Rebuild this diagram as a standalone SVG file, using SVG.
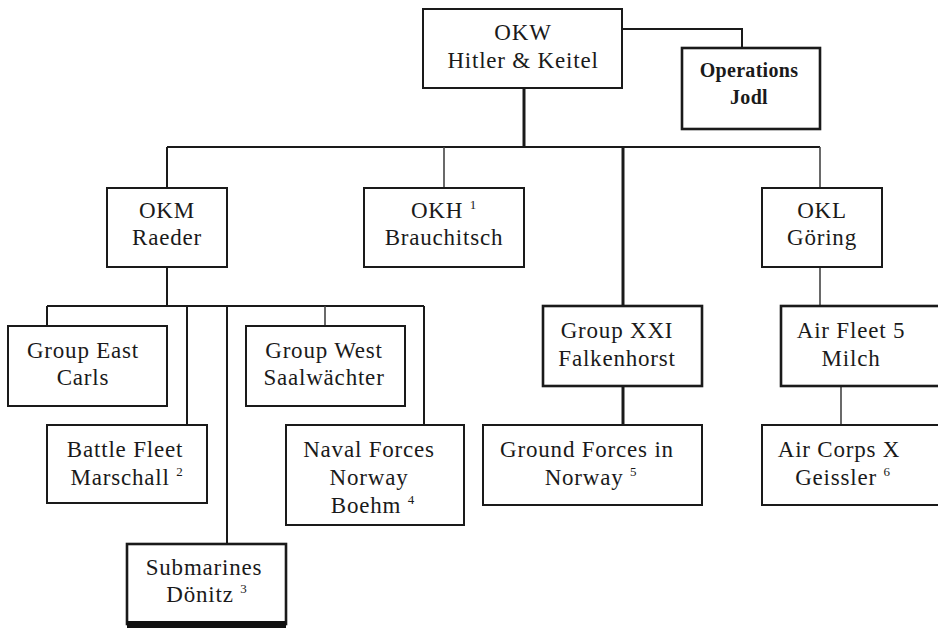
<svg xmlns="http://www.w3.org/2000/svg" width="938" height="628" viewBox="0 0 938 628">
<style>
.box{fill:#fff;stroke:#1a1a1a;stroke-width:2}
.thick{stroke-width:2.6}
.t{font-family:"Liberation Serif","Times New Roman",serif;font-size:23px;fill:#1a1a1a;text-anchor:middle;letter-spacing:0.8px}
.b{font-weight:bold;font-size:20px;letter-spacing:0.3px}
.sup{font-size:13px}
.c{fill:none;stroke:#1a1a1a;stroke-width:2}
.ct{stroke-width:3}
.cl{stroke:#444;stroke-width:1.6}
</style>
<rect width="938" height="628" fill="#fff"/>
<g id="connectors">
<path class="c" d="M622,29 H742 V48"/>
<path class="c ct" d="M524,88 V147"/>
<path class="c" d="M167,147 H820"/>
<path class="c" d="M167,147 V188"/>
<path class="c cl" d="M444,147 V188"/>
<path class="c ct" d="M623,147 V306"/>
<path class="c cl" d="M820,147 V188"/>
<path class="c cl" d="M820,267 V306"/>
<path class="c" d="M167,267 V306"/>
<path class="c" d="M47,306 H424"/>
<path class="c" d="M47,306 V326"/>
<path class="c" d="M187,306 V425"/>
<path class="c" d="M227,306 V544"/>
<path class="c cl" d="M325,306 V326"/>
<path class="c" d="M424,306 V425"/>
<path class="c ct" d="M623,386 V425"/>
<path class="c cl" d="M841,386 V425"/>
</g>
<g id="okw">
<rect class="box" x="423" y="9" width="199" height="79"/>
<text class="t" x="523" y="40">OKW</text>
<text class="t" x="523" y="68">Hitler &amp; Keitel</text>
</g>
<g id="operations">
<rect class="box thick" x="682" y="48" width="138" height="81"/>
<text class="t b" x="749" y="77">Operations</text>
<text class="t b" x="749" y="104">Jodl</text>
</g>
<g id="okm">
<rect class="box" x="107" y="188" width="120" height="79"/>
<text class="t" x="167" y="218">OKM</text>
<text class="t" x="167" y="245">Raeder</text>
</g>
<g id="okh">
<rect class="box" x="364" y="188" width="160" height="79"/>
<text class="t" x="444" y="218">OKH <tspan class="sup" dy="-9">1</tspan></text>
<text class="t" x="444" y="245">Brauchitsch</text>
</g>
<g id="okl">
<rect class="box" x="762" y="188" width="120" height="79"/>
<text class="t" x="822" y="218">OKL</text>
<text class="t" x="822" y="245">Göring</text>
</g>
<g id="group-east">
<rect class="box" x="8" y="326" width="159" height="80"/>
<text class="t" x="83" y="358">Group East</text>
<text class="t" x="83" y="385">Carls</text>
</g>
<g id="battle-fleet">
<rect class="box" x="47" y="425" width="160" height="78"/>
<text class="t" x="125" y="457">Battle Fleet</text>
<text class="t" x="127" y="485">Marschall <tspan class="sup" dy="-9">2</tspan></text>
</g>
<g id="group-west">
<rect class="box" x="246" y="326" width="159" height="80"/>
<text class="t" x="324" y="358">Group West</text>
<text class="t" x="324" y="385">Saalwächter</text>
</g>
<g id="naval-forces">
<rect class="box" x="286" y="425" width="178" height="100"/>
<text class="t" x="369" y="457">Naval Forces</text>
<text class="t" x="369" y="485">Norway</text>
<text class="t" x="373" y="513">Boehm <tspan class="sup" dy="-9">4</tspan></text>
</g>
<g id="submarines">
<rect class="box thick" x="127" y="544" width="159" height="80"/>
<rect x="127" y="621" width="159" height="7" fill="#111"/>
<text class="t" x="204" y="575">Submarines</text>
<text class="t" x="207" y="602">Dönitz <tspan class="sup" dy="-9">3</tspan></text>
</g>
<g id="group-xxi">
<rect class="box thick" x="543" y="306" width="159" height="80"/>
<text class="t" x="617" y="338">Group XXI</text>
<text class="t" x="617" y="366">Falkenhorst</text>
</g>
<g id="ground-forces">
<rect class="box" x="483" y="425" width="219" height="80"/>
<text class="t" x="587" y="457">Ground Forces in</text>
<text class="t" x="591" y="485">Norway <tspan class="sup" dy="-9">5</tspan></text>
</g>
<g id="air-fleet-5">
<rect class="box thick" x="781" y="306" width="160" height="80"/>
<text class="t" x="851" y="338">Air Fleet 5</text>
<text class="t" x="851" y="366">Milch</text>
</g>
<g id="air-corps-x">
<rect class="box" x="762" y="425" width="180" height="80"/>
<text class="t" x="839" y="457">Air Corps X</text>
<text class="t" x="843" y="485">Geissler <tspan class="sup" dy="-9">6</tspan></text>
</g>
</svg>
